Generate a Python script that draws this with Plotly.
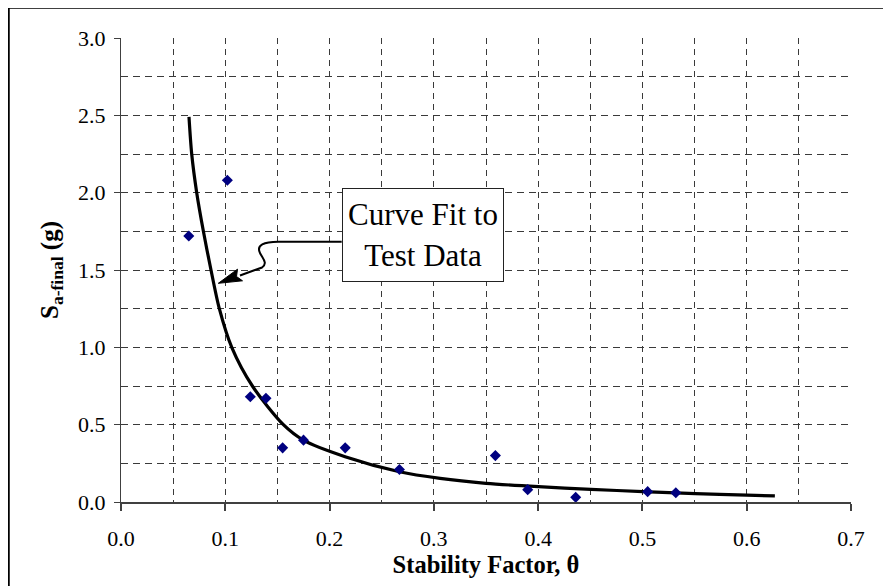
import plotly.graph_objects as go

# ---- data ----
theta_pts = [0.065, 0.102, 0.124, 0.139, 0.155, 0.175, 0.215, 0.267, 0.359, 0.390, 0.436, 0.505, 0.532]
sa_pts = [1.72, 2.08, 0.68, 0.67, 0.35, 0.40, 0.35, 0.21, 0.30, 0.08, 0.03, 0.067, 0.06]

fit_theta = [0.0652, 0.0678, 0.0726, 0.0790, 0.0863, 0.0943, 0.1062, 0.1260, 0.1557,
             0.1749, 0.2149, 0.2670, 0.3060, 0.3500, 0.4003, 0.4506, 0.5005, 0.5507, 0.6000, 0.6270]
fit_sa = [2.49, 2.25, 2.00, 1.75, 1.50, 1.25, 1.00, 0.75, 0.50,
          0.400, 0.293, 0.196, 0.153, 0.121, 0.099, 0.082, 0.067, 0.054, 0.045, 0.039]

x_ticks = [0.0, 0.1, 0.2, 0.3, 0.4, 0.5, 0.6, 0.7]
y_ticks = [0.0, 0.5, 1.0, 1.5, 2.0, 2.5, 3.0]

# ---- layout geometry (pixels); the page body adds an 8px offset ----
OFF = 8
W, H = 883, 578
ML, MR, MT, MB = 113, 40, 30, 84
X0, X1 = 0.0, 0.7
Y0, Y1 = 0.0, 3.0
pw = W - ML - MR
ph = H - MT - MB


def px2x(px):  # page pixel -> data x
    return X0 + (px - OFF - ML) / pw * (X1 - X0)


def px2y(py):  # page pixel -> data y
    return Y0 + (OFF + H - MB - py) / ph * (Y1 - Y0)


def px2paperx(px):
    return (px - OFF - ML) / pw


def px2papery(py):
    return (OFF + H - MB - py) / ph


SERIF = "Liberation Serif, Times New Roman, serif"
GRID = "#3a3a3a"
AXC = "#404040"

fig = go.Figure()
fig.add_trace(go.Scatter(x=fit_theta, y=fit_sa, mode="lines",
                         line=dict(color="black", width=3.2, shape="spline", smoothing=0.8),
                         showlegend=False, hoverinfo="skip"))
fig.add_trace(go.Scatter(x=theta_pts, y=sa_pts, mode="markers",
                         marker=dict(symbol="diamond", size=8.5, color="#000080"),
                         showlegend=False))

# curly arrow from label box to curve
p = lambda a, b: f"{px2x(a):.5f},{px2y(b):.5f}"
arrow_path = (f"M {p(341.7, 241.7)} L {p(278.3, 241.7)} "
              f"C {p(264, 241.7)} {p(256, 245)} {p(260, 253)} "
              f"C {p(263, 259)} {p(268, 263)} {p(262, 267.5)} "
              f"L {p(240, 275.5)}")
head_path = (f"M {p(218.3, 283.3)} L {p(237.5, 269.2)} L {p(236.5, 276.5)} "
             f"L {p(242.5, 280.8)} Z")

shapes = [
    dict(type="path", path=arrow_path, xref="x", yref="y",
         line=dict(color="black", width=2)),
    dict(type="path", path=head_path, xref="x", yref="y",
         line=dict(color="black", width=1), fillcolor="black"),
    # outer chart border (cut off at right and bottom in the reference)
    dict(type="line", xref="paper", yref="paper",
         x0=px2paperx(8.5), x1=px2paperx(920),
         y0=px2papery(7.5), y1=px2papery(7.5),
         line=dict(color="black", width=2.5)),
    dict(type="line", xref="paper", yref="paper",
         x0=px2paperx(8.5), x1=px2paperx(8.5),
         y0=px2papery(7.5), y1=px2papery(620),
         line=dict(color="black", width=2.5)),
]

annotations = [
    dict(x=px2x(423), y=px2y(234.5), xref="x", yref="y",
         text="Curve Fit to<br>Test Data", showarrow=False,
         font=dict(family=SERIF, size=31, color="black"),
         bordercolor="#222", borderwidth=1, bgcolor="white",
         width=158, height=90, borderpad=1, align="center"),
]

fig.update_layout(
    width=W, height=H,
    margin=dict(l=ML, r=MR, t=MT, b=MB),
    paper_bgcolor="white", plot_bgcolor="white",
    font=dict(family=SERIF, size=22, color="black"),
    shapes=shapes, annotations=annotations,
    showlegend=False,
)

fig.update_xaxes(
    range=[X0, X1], tickvals=x_ticks, ticktext=[f"{v:.1f}" for v in x_ticks],
    ticks="outside", ticklen=7, tickcolor=AXC, tickwidth=1.5,
    showline=True, linecolor=AXC, linewidth=1.5, zeroline=False,
    showgrid=True, gridcolor=GRID, griddash="6px,5px", gridwidth=1,
    minor=dict(dtick=0.05, tick0=0, showgrid=True, gridcolor=GRID, griddash="6px,5px", gridwidth=1, ticks=""),
    title=dict(text="<b>Stability Factor, θ</b>", font=dict(family=SERIF, size=24.5), standoff=0),
    tickfont=dict(family=SERIF, size=22), ticklabelstandoff=9,
)
fig.update_yaxes(
    range=[Y0, Y1], tickvals=y_ticks, ticktext=[f"{v:.1f}" for v in y_ticks],
    ticks="outside", ticklen=6, tickcolor=AXC, tickwidth=1,
    showline=True, linecolor=AXC, linewidth=1, zeroline=False,
    showgrid=True, gridcolor=GRID, griddash="7px,5px", gridwidth=1,
    minor=dict(dtick=0.25, tick0=0, showgrid=True, gridcolor=GRID, griddash="7px,5px", gridwidth=1, ticks=""),
    title=dict(text="<b>S<sub>a-final</sub> (g)</b>", font=dict(family=SERIF, size=25), standoff=12),
    tickfont=dict(family=SERIF, size=22), ticklabelstandoff=4,
)

fig.write_html("out.html")
